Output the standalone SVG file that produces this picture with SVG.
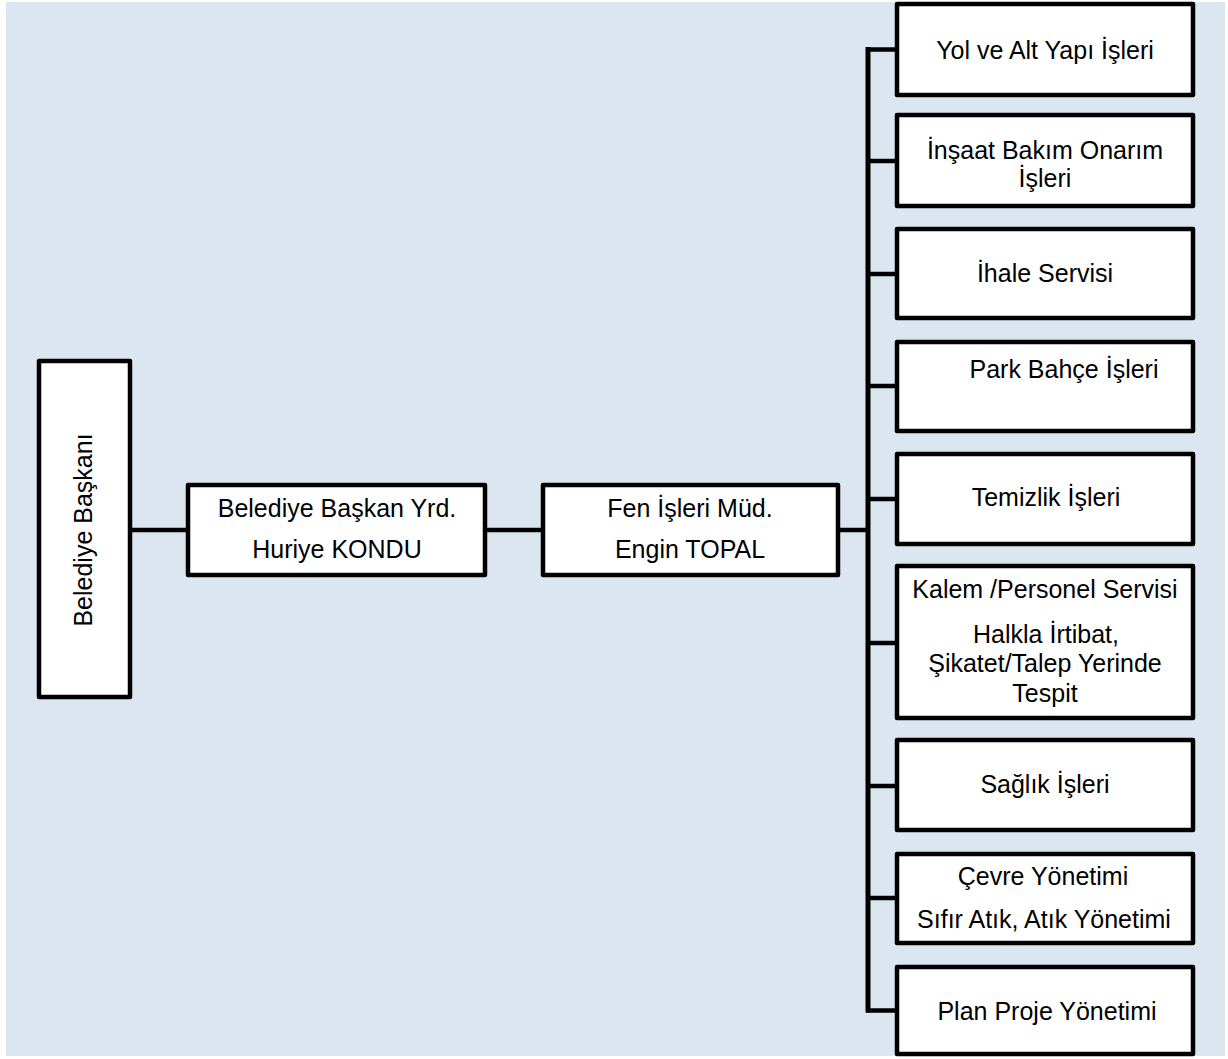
<svg xmlns="http://www.w3.org/2000/svg" width="1228" height="1059" viewBox="0 0 1228 1059">
<style>
.bg{fill:#dce6f1}
.box{fill:#ffffff;stroke:#000000;stroke-width:4.5;stroke-linejoin:round}
.t{font-family:"Liberation Sans",Arial,sans-serif;font-size:25px;fill:#000000;text-anchor:middle}
.c{stroke:#000000;fill:none;stroke-width:4.5}
</style>
<rect x="0" y="0" width="1228" height="1059" fill="#ffffff"/>
<rect class="bg" x="6" y="2" width="1219" height="1054"/>
<g id="connectors">
<line class="c" x1="130" y1="530" x2="188" y2="530"/>
<line class="c" x1="485" y1="530" x2="543" y2="530"/>
<line class="c" x1="838" y1="530" x2="868" y2="530"/>
<line class="c" x1="868" y1="47" x2="868" y2="1012.5" style="stroke-width:5"/>
<line class="c" x1="866" y1="49.5" x2="897" y2="49.5"/>
<line class="c" x1="866" y1="161" x2="897" y2="161"/>
<line class="c" x1="866" y1="274" x2="897" y2="274"/>
<line class="c" x1="866" y1="386" x2="897" y2="386"/>
<line class="c" x1="866" y1="499" x2="897" y2="499"/>
<line class="c" x1="866" y1="643" x2="897" y2="643"/>
<line class="c" x1="866" y1="786" x2="897" y2="786"/>
<line class="c" x1="866" y1="898" x2="897" y2="898"/>
<line class="c" x1="866" y1="1010.5" x2="897" y2="1010.5"/>
</g>
<g id="baskan">
<rect class="box" x="39" y="361" width="91" height="336"/>
<text class="t" transform="translate(92,530) rotate(-90)" x="0" y="0">Belediye Başkanı</text>
</g>
<g id="baskan-yrd">
<rect class="box" x="188" y="485" width="297" height="90"/>
<text class="t" x="337" y="517">Belediye Başkan Yrd.</text>
<text class="t" x="337" y="558">Huriye KONDU</text>
</g>
<g id="fen-isleri">
<rect class="box" x="543" y="485" width="295" height="90"/>
<text class="t" x="690" y="517">Fen İşleri Müd.</text>
<text class="t" x="690" y="558">Engin TOPAL</text>
</g>
<g id="yol">
<rect class="box" x="897" y="4" width="296" height="91"/>
<text class="t" x="1045" y="59">Yol ve Alt Yapı İşleri</text>
</g>
<g id="insaat">
<rect class="box" x="897" y="115" width="296" height="91"/>
<text class="t" x="1045" y="159">İnşaat Bakım Onarım</text>
<text class="t" x="1045" y="187">İşleri</text>
</g>
<g id="ihale">
<rect class="box" x="897" y="229" width="296" height="89"/>
<text class="t" x="1045" y="282">İhale Servisi</text>
</g>
<g id="park">
<rect class="box" x="897" y="342" width="296" height="89"/>
<text class="t" x="1064" y="378">Park Bahçe İşleri</text>
</g>
<g id="temizlik">
<rect class="box" x="897" y="454" width="296" height="90"/>
<text class="t" x="1046" y="506">Temizlik İşleri</text>
</g>
<g id="kalem">
<rect class="box" x="897" y="566" width="296" height="152"/>
<text class="t" x="1045" y="598">Kalem /Personel Servisi</text>
<text class="t" x="1046" y="643">Halkla İrtibat,</text>
<text class="t" x="1045" y="672">Şikatet/Talep Yerinde</text>
<text class="t" x="1045" y="702">Tespit</text>
</g>
<g id="saglik">
<rect class="box" x="897" y="740" width="296" height="90"/>
<text class="t" x="1045" y="793">Sağlık İşleri</text>
</g>
<g id="cevre">
<rect class="box" x="897" y="854" width="296" height="89"/>
<text class="t" x="1043" y="885">Çevre Yönetimi</text>
<text class="t" x="1044" y="928">Sıfır Atık, Atık Yönetimi</text>
</g>
<g id="plan">
<rect class="box" x="897" y="967" width="296" height="87"/>
<text class="t" x="1047" y="1020">Plan Proje Yönetimi</text>
</g>
</svg>
